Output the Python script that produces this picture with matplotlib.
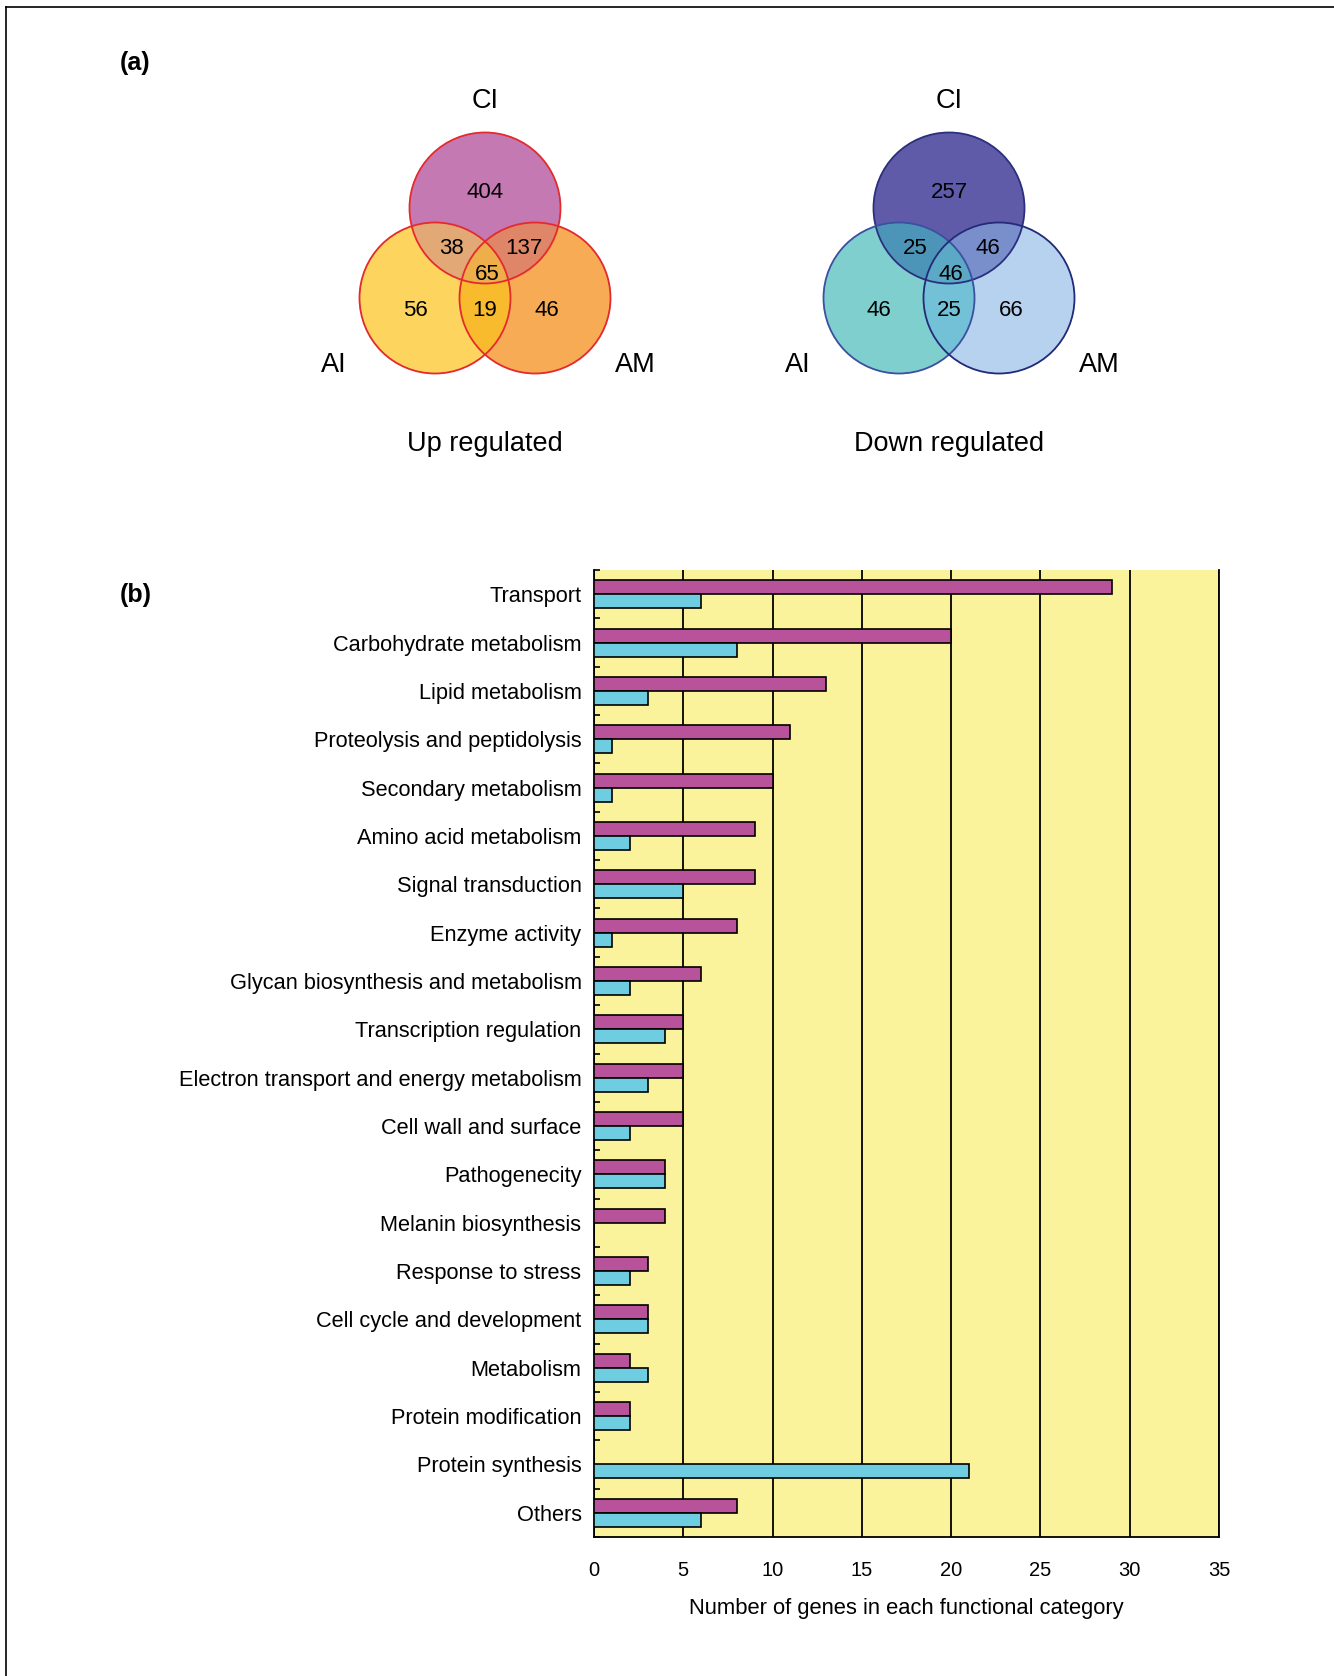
import numpy as np
import matplotlib
matplotlib.use('Agg')
import matplotlib.pyplot as plt
from matplotlib.patches import Circle

plt.rcParams['font.family'] = ['Liberation Sans', 'DejaVu Sans']

# --- data ---
categories = [
    'Transport', 'Carbohydrate metabolism', 'Lipid metabolism',
    'Proteolysis and peptidolysis', 'Secondary metabolism',
    'Amino acid metabolism', 'Signal transduction', 'Enzyme activity',
    'Glycan biosynthesis and metabolism', 'Transcription regulation',
    'Electron transport and energy metabolism', 'Cell wall and surface',
    'Pathogenecity', 'Melanin biosynthesis', 'Response to stress',
    'Cell cycle and development', 'Metabolism', 'Protein modification',
    'Protein synthesis', 'Others',
]
up_counts = [29, 20, 13, 11, 10, 9, 9, 8, 6, 5, 5, 5, 4, 4, 3, 3, 2, 2, 0, 8]
down_counts = [6, 8, 3, 1, 1, 2, 5, 1, 2, 4, 3, 2, 4, 0, 2, 3, 3, 2, 21, 6]
x_ticks = [0, 5, 10, 15, 20, 25, 30, 35]

set_names = ['CI', 'AI', 'AM']
# region keys: 1=CI only, 2=AI only, 4=AM only, 3=CI&AI, 5=CI&AM, 6=AI&AM, 7=all
region_keys = [1, 2, 4, 3, 5, 6, 7]
up_venn = [404, 56, 46, 38, 137, 19, 65]
down_venn = [257, 46, 66, 25, 46, 25, 46]

up_colors = {1: '#C57AB3', 2: '#FDD55E', 4: '#F8AC56', 3: '#E2A978',
             5: '#E08568', 6: '#F9BC2E', 7: '#EEAE4A'}
down_colors = {1: '#605BA8', 2: '#80CFCF', 4: '#B6D3EE', 3: '#4D95B8',
               5: '#7A8FCB', 6: '#72C2D6', 7: '#5BA9C6'}
up_edges = ['#E52A2E', '#E52A2E', '#E52A2E']
down_edges = ['#2B2F7E', '#3B50A0', '#232A7A']

W, H = 1334, 1676
fig = plt.figure(figsize=(W / 100, H / 100), dpi=100)

# overlay axes in pixel coordinates for the venn part and the frame
ax0 = fig.add_axes([0, 0, 1, 1])
ax0.axis('off')

R = 75.5
# label offsets relative to CI circle centre
num_offsets = {1: (0, -15), 2: (-70, 103), 4: (62, 103), 3: (-34, 40),
               5: (39, 40), 6: (0, 103), 7: (2, 66)}


def draw_venn(cx, counts, colors, edges, title):
    cy = 208
    centres = [(cx, cy), (cx - 50, cy + 90), (cx + 50, cy + 90)]
    x0, x1 = cx - 130, cx + 130
    y0, y1 = cy - 80, cy + 170
    step = 0.5
    xs = np.arange(x0, x1, step) + step / 2
    ys = np.arange(y0, y1, step) + step / 2
    X, Y = np.meshgrid(xs, ys)
    code = np.zeros(X.shape, dtype=int)
    for bit, (ccx, ccy) in zip([1, 2, 4], centres):
        code |= (((X - ccx) ** 2 + (Y - ccy) ** 2) <= R ** 2).astype(int) * bit
    rgba = np.zeros(X.shape + (4,))
    for k, c in colors.items():
        rgba[code == k] = matplotlib.colors.to_rgba(c)
    ax0.imshow(rgba, extent=(x0, x1, y1, y0), origin='upper',
               interpolation='bilinear', aspect='auto', zorder=1)
    for (ccx, ccy), ec in zip(centres, edges):
        ax0.add_patch(Circle((ccx, ccy), R, fill=False, ec=ec, lw=1.3, zorder=2))
    for k, n in zip(region_keys, counts):
        dx, dy = num_offsets[k]
        ax0.text(cx + dx, cy + dy, str(n), ha='center', va='center',
                 fontsize=16, zorder=3)
    ax0.text(cx, 101, set_names[0], ha='center', va='center', fontsize=19.5)
    ax0.text(cx - 151, 365, set_names[1], ha='center', va='center', fontsize=19.5)
    ax0.text(cx + 150, 365, set_names[2], ha='center', va='center', fontsize=19.5)
    ax0.text(cx, 444, title, ha='center', va='center', fontsize=19.5)


draw_venn(485, up_venn, up_colors, up_edges, 'Up regulated')
draw_venn(949, down_venn, down_colors, down_edges, 'Down regulated')

ax0.text(120, 63, '(a)', fontsize=18, fontweight='bold', va='center')
ax0.text(120, 595, '(b)', fontsize=18, fontweight='bold', va='center')

# frame
ax0.plot([6, W], [7, 7], color='black', lw=1.2)
ax0.plot([6, 6], [7, H], color='black', lw=1.2)
ax0.set_xlim(0, W)
ax0.set_ylim(H, 0)

# --- bar chart ---
ax = fig.add_axes([594 / W, 1 - 1537 / H, (1219 - 594) / W, (1537 - 570) / H])
ax.set_facecolor('#FBF39B')
y = np.arange(len(categories))
bh = 0.29
ax.barh(y - bh / 2, up_counts, height=bh, color='#B8529A', edgecolor='black',
        lw=1.2, zorder=3)
ax.barh(y + bh / 2, down_counts, height=bh, color='#6ECDE0', edgecolor='black',
        lw=1.2, zorder=3)
ax.set_xlim(0, 35)
ax.set_ylim(len(categories) - 0.5, -0.5)
ax.set_xticks(x_ticks)
ax.xaxis.grid(True, color='black', lw=1.3)
ax.set_axisbelow(True)
ax.tick_params(axis='x', length=0, pad=17, labelsize=14.5)
ax.set_yticks(y)
ax.set_yticklabels(categories, fontsize=15.7)
ax.tick_params(axis='y', which='major', length=0, pad=9)
ax.set_yticks(np.arange(-0.5, len(categories), 1), minor=True)
ax.tick_params(axis='y', which='minor', direction='in', length=4, width=1.2)
ax.spines['top'].set_visible(False)
for s in ['left', 'right', 'bottom']:
    ax.spines[s].set_linewidth(1.3)
ax.set_xlabel('Number of genes in each functional category', fontsize=15.8,
              labelpad=13)

fig.savefig('out.png', dpi=100)
